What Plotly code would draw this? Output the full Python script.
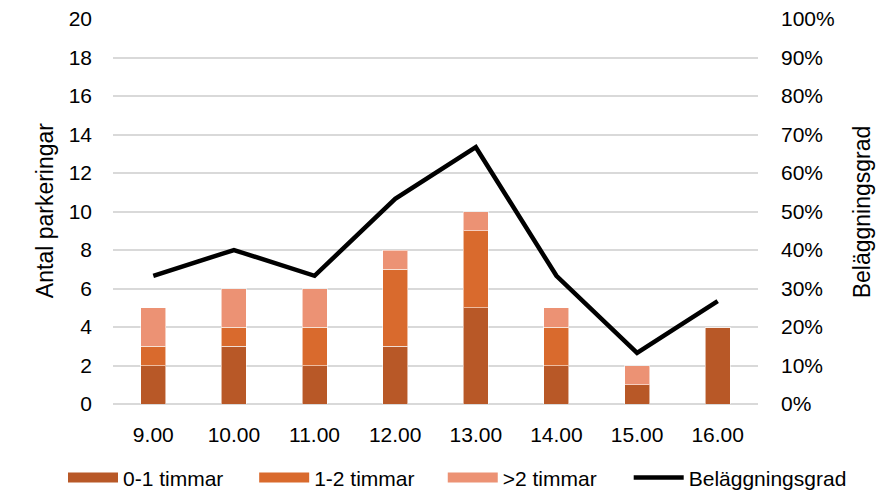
import plotly.graph_objects as go

hours = ["9.00", "10.00", "11.00", "12.00", "13.00", "14.00", "15.00", "16.00"]
short_01 = [2, 3, 2, 3, 5, 2, 1, 4]
mid_12 = [1, 1, 2, 4, 4, 2, 0, 0]
long_2 = [2, 2, 2, 1, 1, 1, 1, 0]
occupancy = [0.333, 0.40, 0.333, 0.533, 0.667, 0.333, 0.133, 0.267]

series_names = ["0-1 timmar", "1-2 timmar", ">2 timmar"]
series_values = [short_01, mid_12, long_2]
series_colors = ["#B85827", "#D96A2D", "#EC9274"]
legend_ids = ["legend", "legend2", "legend3"]

font = "Liberation Sans, Arial, sans-serif"
edge = dict(color="rgba(255,255,255,0.55)", width=1)

fig = go.Figure()
for name, vals, col in zip(series_names, series_values, series_colors):
    fig.add_trace(go.Bar(x=hours, y=vals, name=name, showlegend=False,
                         marker=dict(color=col, line=edge)))
# legend entries (wide rectangular swatches like the original)
for name, col, lid in zip(series_names, series_colors, legend_ids):
    fig.add_trace(go.Scatter(x=[None], y=[None], name=name, legend=lid, mode="lines",
                             line=dict(color=col, width=18), hoverinfo="skip"))
fig.add_trace(go.Scatter(x=hours, y=occupancy, name="Beläggningsgrad", yaxis="y2", legend="legend4",
                         mode="lines", line=dict(color="black", width=4.5)))

leg_common = dict(orientation="h", xref="container", xanchor="left",
                  y=-0.192, yanchor="middle", font=dict(size=21), itemwidth=50,
                  bgcolor="rgba(0,0,0,0)")

fig.update_layout(
    width=873, height=482,
    margin=dict(l=105, r=123, t=11, b=86, autoexpand=False),
    barmode="stack", bargap=0.69,
    plot_bgcolor="white", paper_bgcolor="white",
    font=dict(family=font, size=21, color="black"),
    xaxis=dict(type="category", showgrid=False, showline=False, zeroline=False,
               ticks="", ticklabelstandoff=16, tickfont=dict(size=21)),
    yaxis=dict(range=[0, 20], dtick=2, showgrid=True, gridcolor="#D9D9D9", gridwidth=1.5,
               zeroline=True, zerolinecolor="#D9D9D9", zerolinewidth=1.5, showline=False,
               ticks="", ticklabelstandoff=20, ticklabeloverflow="allow"),
    yaxis2=dict(range=[0, 1], dtick=0.1, tickformat=".0%", overlaying="y", side="right",
                showgrid=False, zeroline=False, showline=False, ticks="", ticklabelstandoff=22,
                ticklabeloverflow="allow"),
    annotations=[
        dict(text="Antal parkeringar", xref="paper", yref="paper", x=-0.1054, y=0.501,
             textangle=-90, showarrow=False, font=dict(size=23),
             xanchor="center", yanchor="middle"),
        dict(text="Beläggningsgrad", xref="paper", yref="paper", x=1.161, y=0.5,
             textangle=-90, showarrow=False, font=dict(size=23),
             xanchor="center", yanchor="middle"),
    ],
    legend=dict(leg_common, x=0.063),
    legend2=dict(leg_common, x=0.282),
    legend3=dict(leg_common, x=0.498),
    legend4=dict(leg_common, x=0.711),
    showlegend=True,
)

fig.write_html("out.html")
